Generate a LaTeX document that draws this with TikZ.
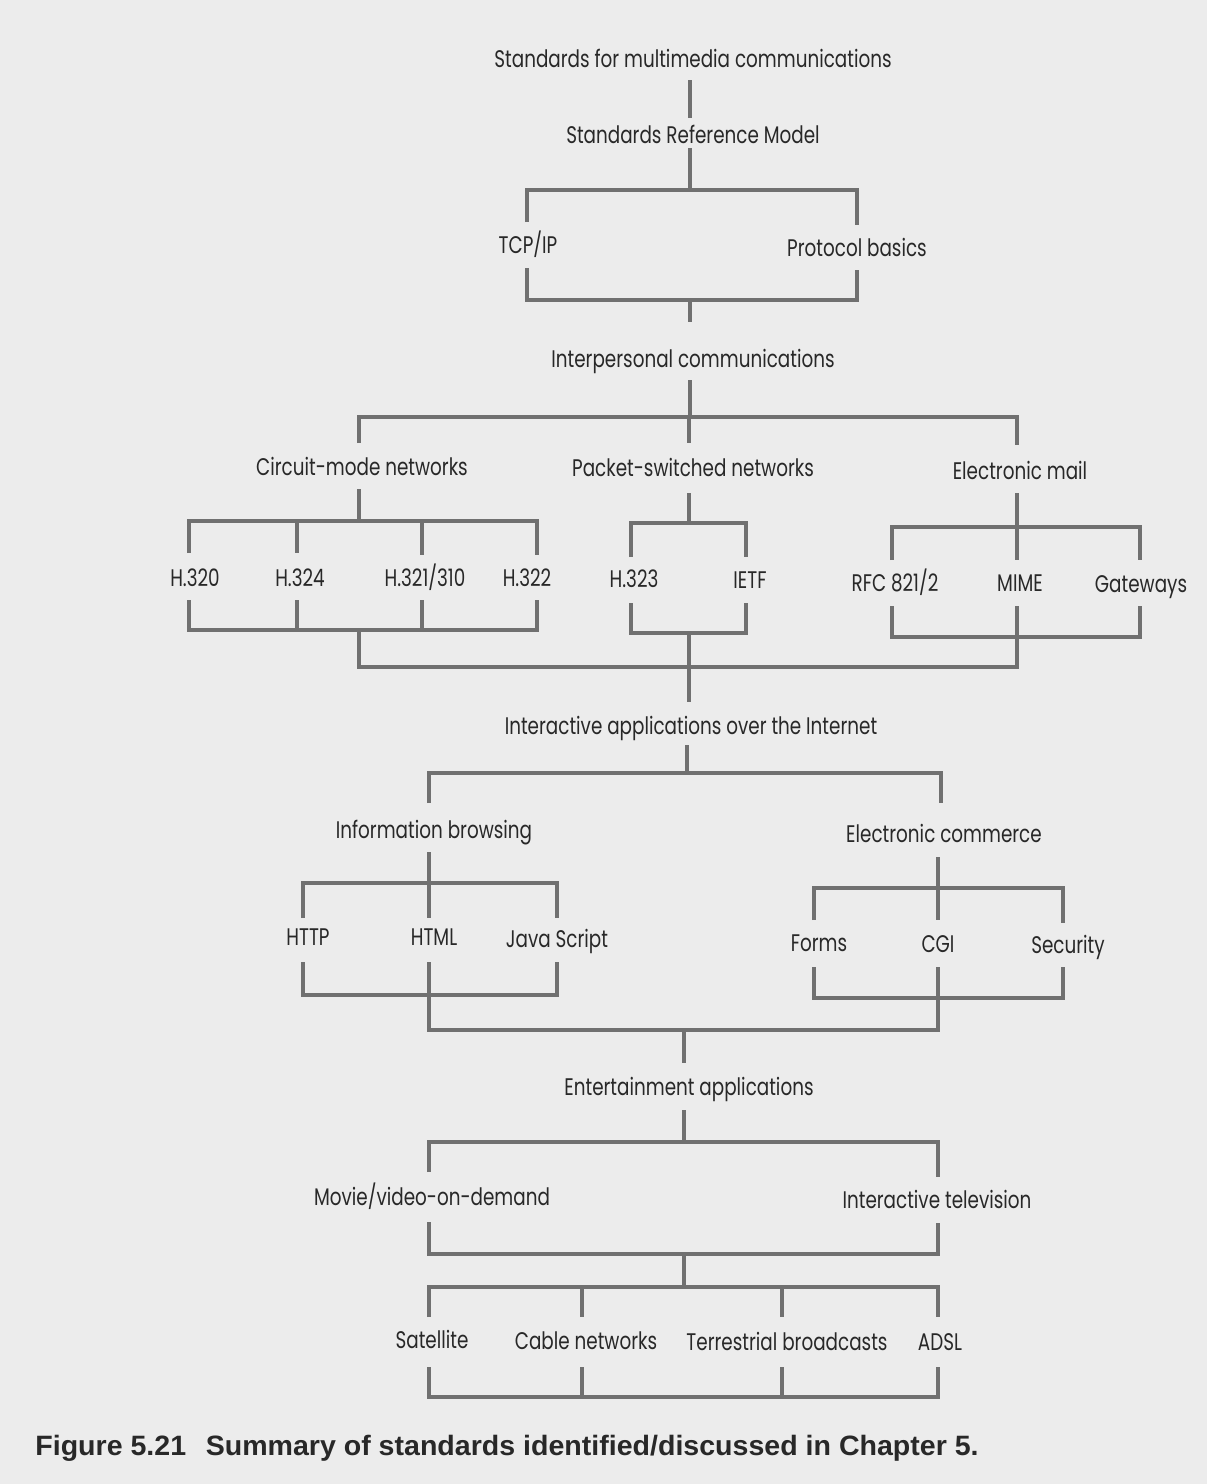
\documentclass[tikz,border=0pt]{standalone}
\usepackage{fontspec}
\setmainfont{Poppins}[FakeStretch=0.765]
\newfontfamily\capfont{Liberation Sans}[FakeStretch=1.02]
\definecolor{bg}{RGB}{236,236,236}
\definecolor{linegray}{RGB}{112,112,112}
\definecolor{ink}{RGB}{40,40,40}
\tikzset{
  lbl/.style={anchor=base, inner sep=0pt, text=ink, font=\fontsize{12pt}{14pt}\selectfont},
  ln/.style={draw=linegray, line width=2.2pt, line join=miter}
}
\begin{document}
\begin{tikzpicture}[x=0.5pt,y=-0.5pt]
\fill[bg] (0,0) rectangle (1207,1484);
\useasboundingbox (0,0) rectangle (1207,1484);

% labels
\node[lbl] (smc) at (693,67) {Standards for multimedia communications};
\node[lbl] (srm) at (693,143) {Standards Reference Model};
\node[lbl] (tcp) at (528,253) {TCP/IP};
\node[lbl] (pb) at (857,256) {Protocol basics};
\node[lbl] (ipc) at (693,367) {Interpersonal communications};
\node[lbl] (cmn) at (362,475) {Circuit-mode networks};
\node[lbl] (psn) at (693,476) {Packet-switched networks};
\node[lbl] (em) at (1020,479) {Electronic mail};
\node[lbl] (h320) at (195,586) {H.320};
\node[lbl] (h324) at (300,586) {H.324};
\node[lbl] (h321) at (425,586) {H.321/310};
\node[lbl] (h322) at (527,586) {H.322};
\node[lbl] (h323) at (634,587) {H.323};
\node[lbl] (ietf) at (750,588) {IETF};
\node[lbl] (rfc) at (895,591) {RFC 821/2};
\node[lbl] (mime) at (1020,591) {MIME};
\node[lbl] (gw) at (1141,592) {Gateways};
\node[lbl] (iai) at (691,734) {Interactive applications over the Internet};
\node[lbl] (ib) at (434,838) {Information browsing};
\node[lbl] (ec) at (944,842) {Electronic commerce};
\node[lbl] (http) at (308,945) {HTTP};
\node[lbl] (html) at (434,945) {HTML};
\node[lbl] (js) at (557,947) {Java Script};
\node[lbl] (forms) at (819,951) {Forms};
\node[lbl] (cgi) at (938,952) {CGI};
\node[lbl] (sec) at (1068,953) {Security};
\node[lbl] (ea) at (689,1095) {Entertainment applications};
\node[lbl] (mvod) at (432,1205) {Movie/video-on-demand};
\node[lbl] (itv) at (937,1208) {Interactive television};
\node[lbl] (sat) at (432,1348) {Satellite};
\node[lbl] (cable) at (586,1349) {Cable networks};
\node[lbl] (terr) at (787,1350) {Terrestrial broadcasts};
\node[lbl] (adsl) at (940,1350) {ADSL};

% root levels
\draw[ln] (690,80) -- (690,118);
\draw[ln] (690,148) -- (690,190);
\draw[ln] (527,222) -- (527,190) -- (857,190) -- (857,225);
\draw[ln] (527,268) -- (527,300) -- (857,300) -- (857,270);
\draw[ln] (690,300) -- (690,322);
\draw[ln] (690,380) -- (690,417);
\draw[ln] (359,443) -- (359,417) -- (1017,417) -- (1017,445);
\draw[ln] (689,417) -- (689,443);

% circuit-mode networks
\draw[ln] (359,489) -- (359,521);
\draw[ln] (189,553) -- (189,521) -- (537,521) -- (537,555);
\draw[ln] (297,521) -- (297,553);
\draw[ln] (422,521) -- (422,555);
\draw[ln] (189,600) -- (189,630) -- (537,630) -- (537,600);
\draw[ln] (297,600) -- (297,630);
\draw[ln] (422,600) -- (422,630);

% packet-switched networks
\draw[ln] (689,493) -- (689,523);
\draw[ln] (631,557) -- (631,523) -- (746,523) -- (746,557);
\draw[ln] (631,603) -- (631,633) -- (746,633) -- (746,603);
\draw[ln] (689,633) -- (689,702);

% electronic mail
\draw[ln] (1017,493) -- (1017,560);
\draw[ln] (892,560) -- (892,527) -- (1140,527) -- (1140,560);
\draw[ln] (892,606) -- (892,637) -- (1140,637) -- (1140,606);
\draw[ln] (359,630) -- (359,667) -- (1017,667) -- (1017,606);

% interactive applications
\draw[ln] (687,745) -- (687,773);
\draw[ln] (429,803) -- (429,773) -- (941,773) -- (941,803);

% information browsing
\draw[ln] (429,852) -- (429,918);
\draw[ln] (303,918) -- (303,883) -- (557,883) -- (557,918);
\draw[ln] (303,962) -- (303,995) -- (557,995) -- (557,962);

% electronic commerce
\draw[ln] (938,857) -- (938,920);
\draw[ln] (814,920) -- (814,888) -- (1063,888) -- (1063,923);
\draw[ln] (814,967) -- (814,998) -- (1063,998) -- (1063,967);
\draw[ln] (429,962) -- (429,1030) -- (938,1030) -- (938,967);
\draw[ln] (684,1030) -- (684,1063);

% entertainment
\draw[ln] (684,1110) -- (684,1142);
\draw[ln] (429,1172) -- (429,1142) -- (938,1142) -- (938,1177);
\draw[ln] (429,1222) -- (429,1254) -- (938,1254) -- (938,1223);
\draw[ln] (684,1254) -- (684,1287);
\draw[ln] (429,1317) -- (429,1287) -- (938,1287) -- (938,1317);
\draw[ln] (582,1287) -- (582,1317);
\draw[ln] (782,1287) -- (782,1317);
\draw[ln] (429,1367) -- (429,1397) -- (938,1397) -- (938,1367);
\draw[ln] (582,1367) -- (582,1397);
\draw[ln] (782,1367) -- (782,1397);

% caption
\node[anchor=base west, inner sep=0pt, text=ink, font=\capfont\bfseries\fontsize{14pt}{16pt}\selectfont] (cap) at (35,1455) {Figure 5.21\hspace{0.7em}Summary of standards identified/discussed in Chapter 5.};
\end{tikzpicture}
\end{document}
